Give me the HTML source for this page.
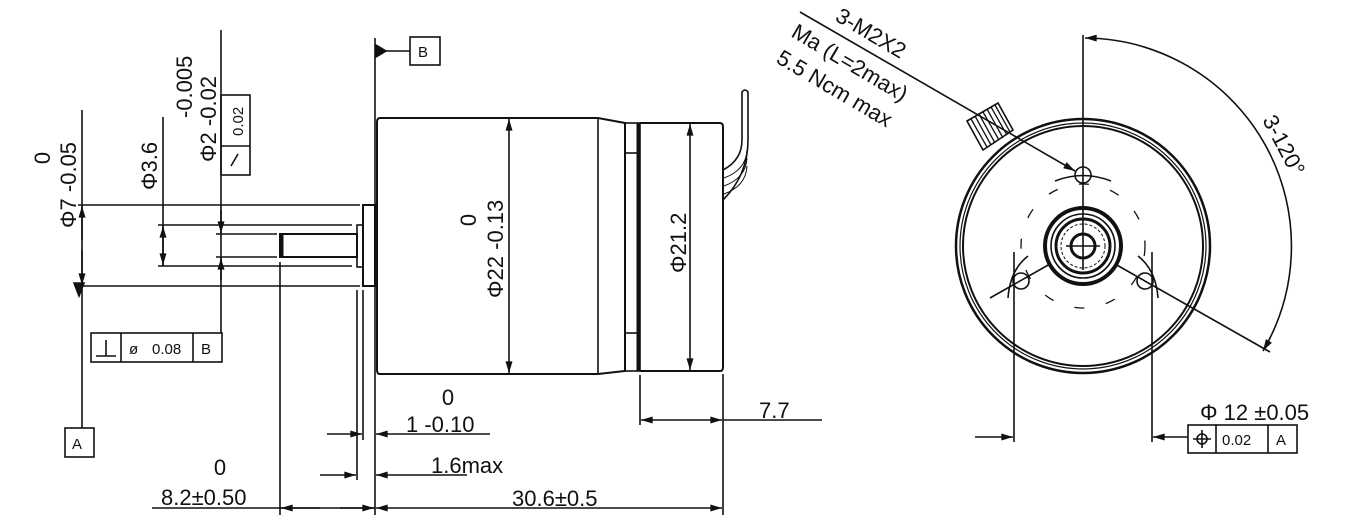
<!DOCTYPE html>
<html><head><style>body{margin:0;background:#fff}svg{display:block}text{font-family:"Liberation Sans",sans-serif;fill:#111}</style></head><body>
<svg width="1360" height="521" viewBox="0 0 1360 521" xmlns="http://www.w3.org/2000/svg">
<defs><marker id="a" viewBox="0 0 10 6" refX="10" refY="3" markerWidth="18" markerHeight="7" markerUnits="userSpaceOnUse" orient="auto-start-reverse"><path d="M0,0L10,3L0,6z" fill="#111"/></marker></defs>
<g stroke="#111" stroke-width="1.6" fill="none">
<line x1="375" y1="38" x2="375" y2="515"/><line x1="375" y1="51" x2="410" y2="51"/><rect x="410" y="37" width="30" height="28"/>
<path d="M376,45L386,51L376,57z" fill="#111"/>
<path d="M380,118H598L625,123V371L598,374H380Q377,374 377,370V122Q377,118 380,118Z" stroke-width="2"/>
<line x1="598" y1="118" x2="598" y2="374"/>
<rect x="625" y="123" width="15" height="248"/><line x1="638" y1="123" x2="638" y2="371" stroke-width="3"/>
<line x1="625" y1="153" x2="640" y2="153"/><line x1="625" y1="333" x2="640" y2="333"/>
<path d="M640,123H720Q723,123 723,127V367Q723,371 720,371H640" stroke-width="2"/>
<path d="M723,170Q742,160 742,140V92Q745,88 748,92V140Q748,175 723,200" />
<path d="M724,178Q746,170 747,150M724,186Q746,178 747,158M724,194Q746,186 747,166" stroke-width="1"/>
<rect x="363" y="205" width="12" height="81" stroke-width="2"/>
<rect x="357" y="225" width="6" height="42"/>
<rect x="280" y="234" width="77" height="23" stroke-width="2"/><line x1="282" y1="234" x2="282" y2="257" stroke-width="3"/>
<line x1="78" y1="205" x2="360" y2="205"/><line x1="78" y1="286" x2="360" y2="286"/>
<line x1="82" y1="110" x2="82" y2="428"/>
<line x1="82" y1="206" x2="82" y2="240" marker-start="url(#a)"/><line x1="82" y1="250" x2="82" y2="285" marker-end="url(#a)"/>
<path d="M74,283L84,283L79,296z" fill="#111"/>
<rect x="65" y="428" width="29" height="29"/>
<line x1="158" y1="225" x2="352" y2="225"/><line x1="158" y1="266" x2="352" y2="266"/>
<line x1="163" y1="117" x2="163" y2="266"/>
<line x1="163" y1="245" x2="163" y2="226" marker-end="url(#a)"/><line x1="163" y1="245" x2="163" y2="265" marker-end="url(#a)"/>
<line x1="216" y1="234" x2="277" y2="234"/><line x1="216" y1="257" x2="277" y2="257"/>
<line x1="221" y1="30" x2="221" y2="333"/>
<line x1="221" y1="210" x2="221" y2="233" marker-end="url(#a)"/><line x1="221" y1="280" x2="221" y2="258" marker-end="url(#a)"/>
<rect x="221" y="95" width="29" height="80"/><line x1="221" y1="146" x2="250" y2="146"/>
<line x1="231" y1="166" x2="238" y2="154"/>
<rect x="91" y="333" width="131" height="29"/><line x1="121" y1="333" x2="121" y2="362"/><line x1="193" y1="333" x2="193" y2="362"/>
<line x1="96" y1="356" x2="116" y2="356"/><line x1="106" y1="340" x2="106" y2="356"/>
<line x1="280" y1="262" x2="280" y2="515"/>
<line x1="152" y1="508" x2="375" y2="508"/>
<line x1="320" y1="508" x2="281" y2="508" marker-end="url(#a)"/><line x1="340" y1="508" x2="374" y2="508" marker-end="url(#a)"/>
<line x1="357" y1="290" x2="357" y2="480"/><line x1="363" y1="290" x2="363" y2="440"/>
<line x1="327" y1="434" x2="362" y2="434" marker-end="url(#a)"/><line x1="490" y1="434" x2="376" y2="434" marker-end="url(#a)"/>
<line x1="320" y1="475" x2="356" y2="475" marker-end="url(#a)"/><line x1="467" y1="475" x2="376" y2="475" marker-end="url(#a)"/>
<line x1="376" y1="508" x2="722" y2="508" marker-start="url(#a)" marker-end="url(#a)"/>
<line x1="723" y1="374" x2="723" y2="515"/>
<line x1="640" y1="375" x2="640" y2="425"/>
<line x1="641" y1="420" x2="722" y2="420" marker-start="url(#a)" marker-end="url(#a)"/><line x1="723" y1="420" x2="822" y2="420"/>
<line x1="509" y1="119" x2="509" y2="373" marker-start="url(#a)" marker-end="url(#a)"/>
<line x1="690" y1="124" x2="690" y2="370" marker-start="url(#a)" marker-end="url(#a)"/>
<circle cx="1083" cy="246" r="127" stroke-width="2.5"/><circle cx="1083" cy="246" r="123" stroke-width="1.2"/><circle cx="1083" cy="246" r="120" stroke-width="2"/>
<circle cx="1083" cy="246" r="38" stroke-width="4"/><circle cx="1083" cy="246" r="32"/><circle cx="1083" cy="246" r="27" stroke-width="3"/><circle cx="1083" cy="246" r="22" stroke-width="1" stroke-dasharray="3 2"/><circle cx="1083" cy="246" r="12" stroke-width="3"/>
<line x1="1066" y1="246" x2="1100" y2="246"/>
<circle cx="1083" cy="246" r="62" stroke-dasharray="10 22" stroke-width="1.3"/>
<circle cx="1083" cy="175" r="8"/><circle cx="1021" cy="281" r="8"/><circle cx="1145" cy="281" r="8"/>
<path d="M1055,181Q1083,170 1111,181M1008,298Q1010,270 1028,256M1158,298Q1156,270 1138,256"/>
<line x1="1083" y1="35" x2="1083" y2="270"/>
<line x1="990" y1="298" x2="1050" y2="264"/><line x1="1115" y1="264" x2="1270" y2="352"/>
<path d="M967,121L998,103L1013,130L983,150z" fill="#fff"/>
<path d="M971,119L987,147M975,116L991,145M979,114L995,143M983,112L999,140M987,109L1003,138M991,107L1007,135M995,105L1010,132" stroke-width="1.3"/>
<line x1="800" y1="12" x2="1075" y2="171" marker-end="url(#a)"/>
<path d="M1085,38A208,208 0 0 1 1263,351" marker-start="url(#a)" marker-end="url(#a)"/>
<line x1="1014" y1="252" x2="1014" y2="442"/><line x1="1152" y1="252" x2="1152" y2="442"/>
<line x1="975" y1="437" x2="1013" y2="437" marker-end="url(#a)"/><line x1="1188" y1="437" x2="1153" y2="437" marker-end="url(#a)"/>
<rect x="1188" y="425" width="109" height="28"/><line x1="1216" y1="425" x2="1216" y2="453"/><line x1="1268" y1="425" x2="1268" y2="453"/>
<circle cx="1202" cy="439" r="5"/><line x1="1202" y1="430" x2="1202" y2="448"/><line x1="1193" y1="439" x2="1211" y2="439"/>
</g>
<g font-size="22">
<text transform="translate(50,158) rotate(-90)" text-anchor="middle">0</text>
<text transform="translate(76,228) rotate(-90)">Φ7 -0.05</text>
<text transform="translate(157,190) rotate(-90)">Φ3.6</text>
<text transform="translate(192,118) rotate(-90)">-0.005</text>
<text transform="translate(216,162) rotate(-90)">Φ2 -0.02</text>
<text transform="translate(476,220) rotate(-90)" text-anchor="middle">0</text>
<text transform="translate(503,298) rotate(-90)">Φ22 -0.13</text>
<text transform="translate(686,273) rotate(-90)">Φ21.2</text>
<text x="448" y="405" text-anchor="middle">0</text>
<text x="406" y="432">1 -0.10</text>
<text x="431" y="473">1.6max</text>
<text x="220" y="475" text-anchor="middle">0</text>
<text x="161" y="505">8.2±0.50</text>
<text x="512" y="506">30.6±0.5</text>
<text x="759" y="418">7.7</text>
<text x="1200" y="420">Φ 12 ±0.05</text>
<text transform="translate(834,20) rotate(30.5)">3-M2X2</text>
<text transform="translate(790,36) rotate(30.5)">Ma (L=2max)</text>
<text transform="translate(775,62) rotate(30.5)">5.5 Ncm max</text>
<text transform="translate(1262,120) rotate(62)">3-120°</text>
</g>
<g font-size="15">
<text x="418" y="57">B</text><text x="72" y="449">A</text>
<text x="152" y="354">0.08</text><text x="201" y="354">B</text><text x="129" y="354">ø</text>
<text transform="translate(243,136) rotate(-90)">0.02</text>
<text x="1222" y="445">0.02</text><text x="1276" y="445">A</text>
</g>
</svg>
</body></html>
